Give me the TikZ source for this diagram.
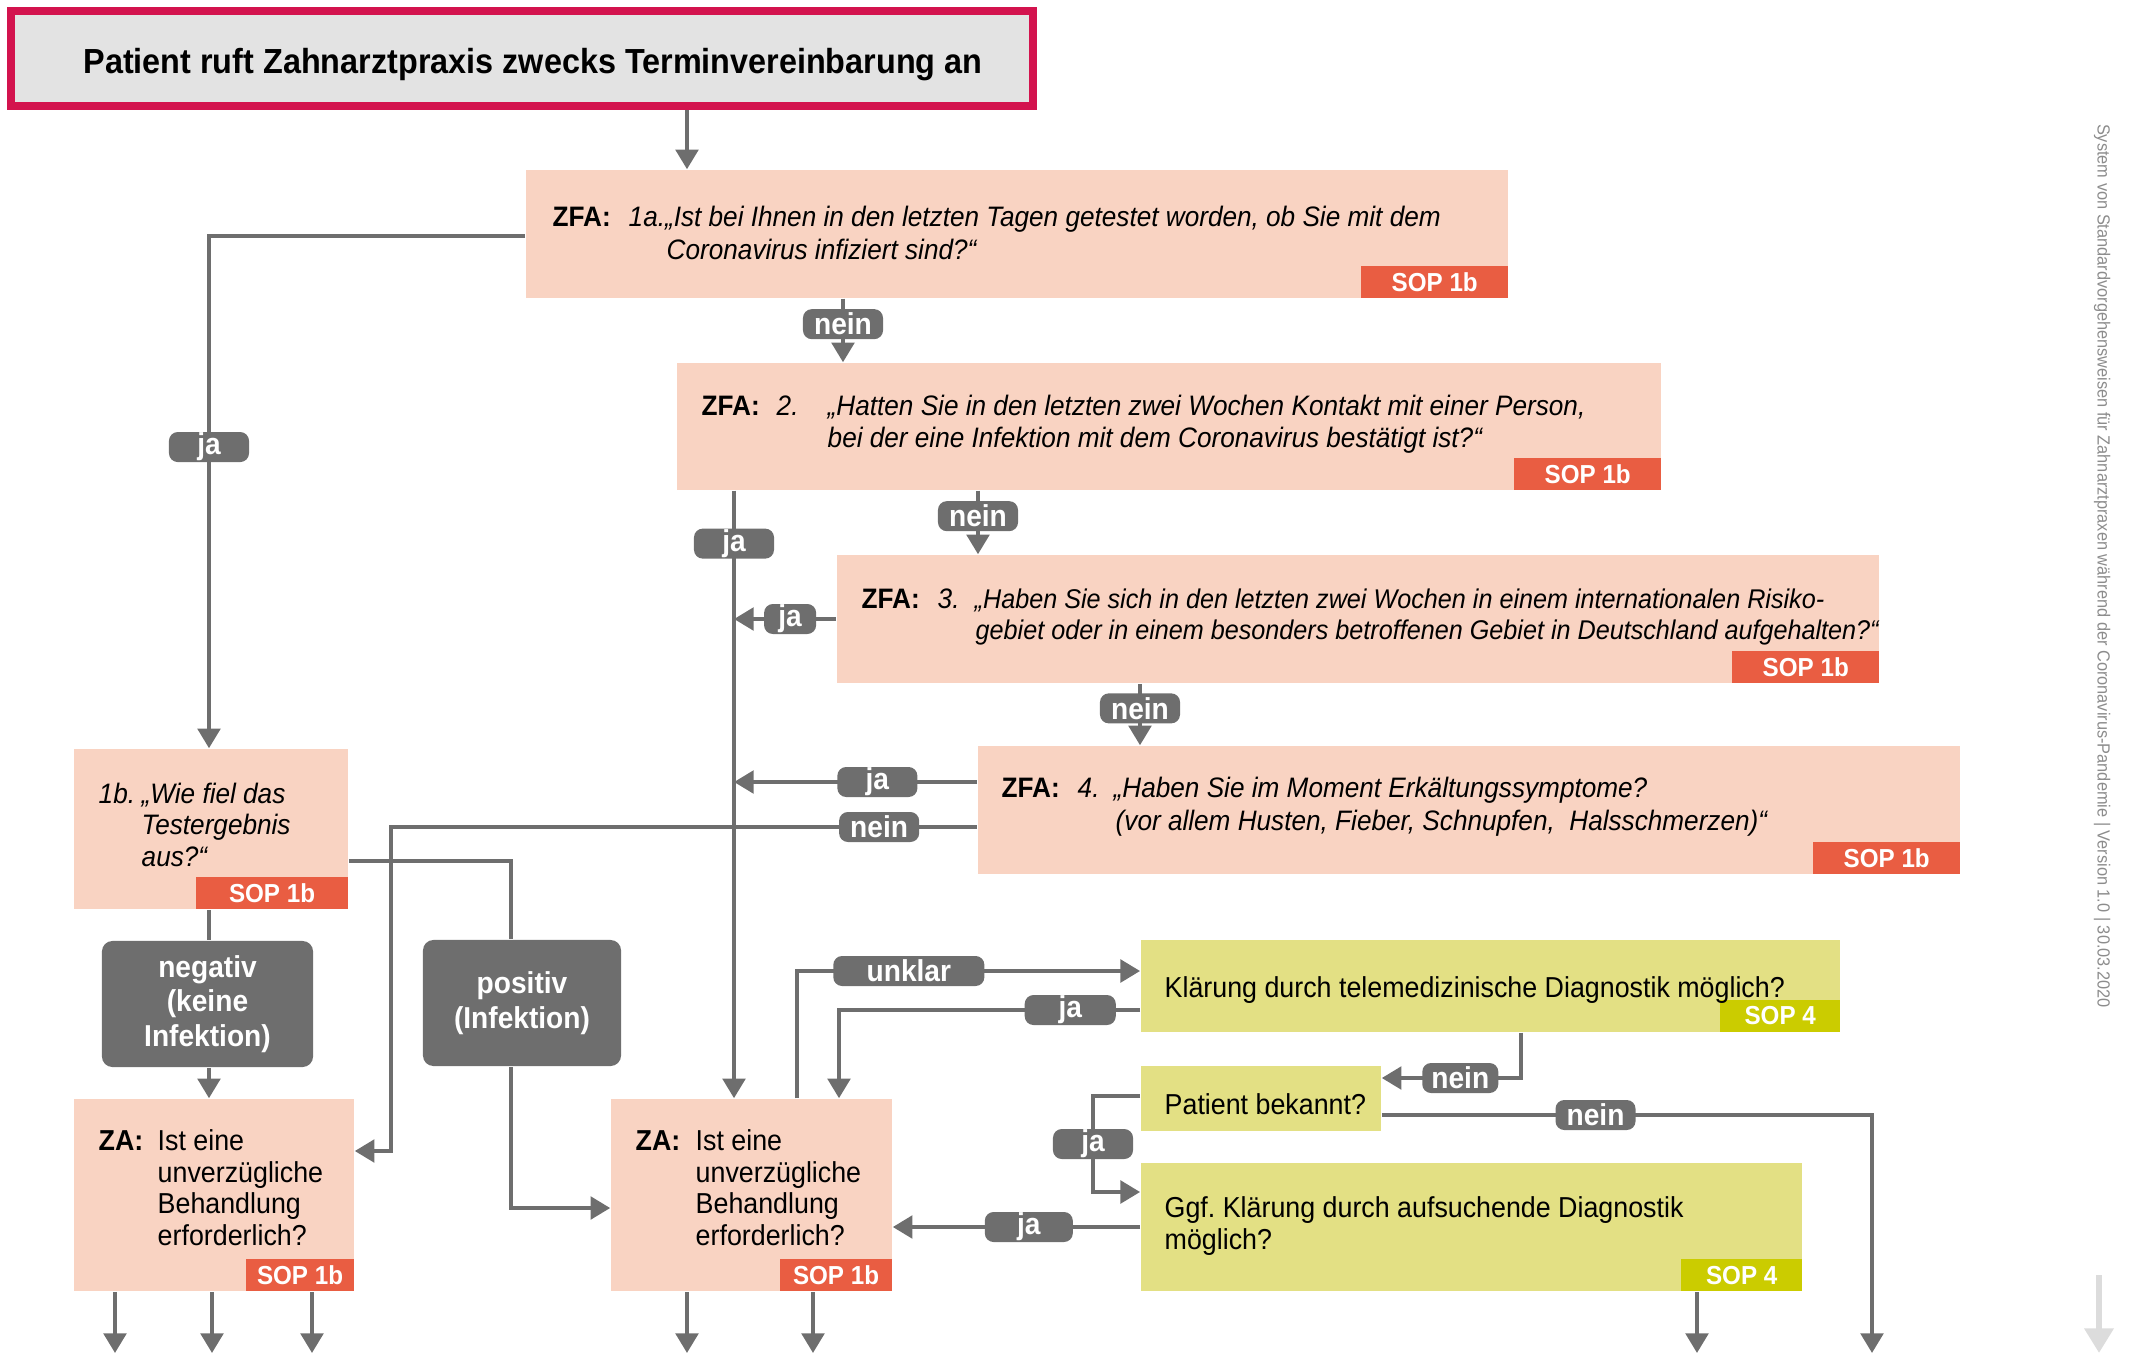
\documentclass[tikz,border=0pt]{standalone}
\usepackage{fontspec}
\setmainfont{Liberation Sans}[FakeStretch=0.93]
\usepackage{tikz}
\usetikzlibrary
  {
    arrows.meta,   % triangle arrow heads
    positioning,   % place nodes relative to other nodes
    calc,
  }
\frenchspacing

\definecolor{flowgray}{HTML}{6E6E6E}
\definecolor{peach}{HTML}{F9D3C2}
\definecolor{soporange}{HTML}{E95D42}
\definecolor{limebox}{HTML}{E3E084}
\definecolor{sopyellow}{HTML}{CBCC00}
\definecolor{callred}{HTML}{D3134E}
\definecolor{callgray}{HTML}{E3E3E3}
\definecolor{notegray}{HTML}{8C8C8C}
\definecolor{hintgray}{HTML}{DCDCDC}

\tikzset{
  line/.style={draw=flowgray, line width=1.15pt},
  arr/.style={line, -{Triangle[width=6.4pt,length=5.6pt]}},
  question/.style={fill=peach, inner sep=0pt},
  check/.style={fill=limebox, inner sep=0pt},
  result/.style={fill=flowgray, rounded corners=3pt, text=white, align=center,
    font=\bfseries\fontsize{8.6}{9.8}\selectfont, inner sep=0pt},
  lbl/.style={fill=flowgray, rounded corners=2.5pt, text=white, inner sep=0pt,
    minimum width=0.8cm, minimum height=0.3cm, font=\bfseries\fontsize{8.6}{8}\selectfont},
  sop/.style={fill=soporange, text=white, inner sep=0pt, anchor=south east,
    minimum height=0.32cm, font=\bfseries\fontsize{7.4}{8}\selectfont},
  sop4/.style={sop, fill=sopyellow},
  txt/.style={anchor=base west, inner sep=0pt, font=\fontsize{8.2}{9.4}\selectfont},
  ask/.style={txt, font=\itshape\fontsize{8}{9.4}\selectfont},
  who/.style={txt, font=\bfseries\fontsize{8}{9.4}\selectfont},
}

\begin{document}
\begin{tikzpicture}[x=0.01cm, y=-0.01cm]
  \useasboundingbox (0,0) rectangle (2154,1354);

  % call
  \node [draw=callred, line width=0.08cm, fill=callgray, minimum width=10.22cm,
    minimum height=0.95cm] (call) at (522,58.5) {};
  \node [anchor=base, inner sep=0pt, font=\bfseries\fontsize{9.9}{10}\selectfont] (call-t)
    at (533,73) {Patient ruft Zahnarztpraxis zwecks Terminvereinbarung an};

  % questions of the ZFA
  \node [question, minimum width=9.82cm, minimum height=1.28cm] (q1a) at (1017,234) {};
  \node [sop, minimum width=1.47cm] (q1a-sop) at (q1a.south east) {SOP 1b};
  \node [who] (q1a-who) at (552,226) {ZFA:};
  \node [ask] (q1a-l1) at (628,226) {1a.„Ist bei Ihnen in den letzten Tagen getestet worden, ob Sie mit dem};
  \node [ask] (q1a-l2) at (666,259) {Coronavirus infiziert sind?“};

  \node [question, minimum width=9.84cm, minimum height=1.27cm] (q2) at (1169,426.5) {};
  \node [sop, minimum width=1.47cm] (q2-sop) at (q2.south east) {SOP 1b};
  \node [who] (q2-who) at (701,415) {ZFA:};
  \node [ask] (q2-nr) at (776,415) {2.};
  \node [ask] (q2-l1) at (827,415) {„Hatten Sie in den letzten zwei Wochen Kontakt mit einer Person,};
  \node [ask] (q2-l2) at (827,447) {bei der eine Infektion mit dem Coronavirus bestätigt ist?“};

  \node [question, minimum width=10.42cm, minimum height=1.28cm] (q3) at (1358,619) {};
  \node [sop, minimum width=1.47cm] (q3-sop) at (q3.south east) {SOP 1b};
  \node [who] (q3-who) at (861,608) {ZFA:};
  \node [ask] (q3-nr) at (937,608) {3.};
  \node [ask, font=\itshape\fontsize{7.7}{9.4}\selectfont] (q3-l1) at (974,608)
    {„Haben Sie sich in den letzten zwei Wochen in einem internationalen Risiko-};
  \node [ask, font=\itshape\fontsize{7.7}{9.4}\selectfont] (q3-l2) at (975,639)
    {gebiet oder in einem besonders betroffenen Gebiet in Deutschland aufgehalten?“};

  \node [question, minimum width=9.82cm, minimum height=1.28cm] (q4) at (1469,810) {};
  \node [sop, minimum width=1.47cm] (q4-sop) at (q4.south east) {SOP 1b};
  \node [who] (q4-who) at (1001,797) {ZFA:};
  \node [ask] (q4-nr) at (1077,797) {4.};
  \node [ask] (q4-l1) at (1113,797) {„Haben Sie im Moment Erkältungssymptome?};
  \node [ask] (q4-l2) at (1115,830) {(vor allem Husten, Fieber, Schnupfen,~ Halsschmerzen)“};

  \node [question, minimum width=2.74cm, minimum height=1.6cm] (q1b) at (211,829) {};
  \node [sop, minimum width=1.52cm] (q1b-sop) at (q1b.south east) {SOP 1b};
  \node [ask] (q1b-nr) at (98,803) {1b.};
  \node [ask] (q1b-l1) at (141,803) {„Wie fiel das};
  \node [ask] (q1b-l2) at (141,834) {Testergebnis};
  \node [ask] (q1b-l3) at (141,866) {aus?“};

  % test results
  \node [result, minimum width=2.11cm, minimum height=1.26cm] (neg) at (207.5,1004) {negativ\\(keine\\Infektion)};
  \node [result, minimum width=1.98cm, minimum height=1.26cm] (pos) at (522,1003) {positiv\\(Infektion)};

  % questions of the ZA
  \node [question, minimum width=2.8cm, minimum height=1.92cm] (za1) at (214,1195) {};
  \node [sop, minimum width=1.08cm] (za1-sop) at (za1.south east) {SOP 1b};
  \node [who, font=\bfseries\fontsize{8.2}{9.4}\selectfont] (za1-who) at (98,1150) {ZA:};
  \node [txt] (za1-l1) at (157,1150) {Ist eine};
  \node [txt] (za1-l2) at (157,1182) {unverzügliche};
  \node [txt] (za1-l3) at (157,1213) {Behandlung};
  \node [txt] (za1-l4) at (157,1245) {erforderlich?};

  \node [question, minimum width=2.81cm, minimum height=1.92cm] (za2) at (751.5,1195) {};
  \node [sop, minimum width=1.12cm] (za2-sop) at (za2.south east) {SOP 1b};
  \node [who, font=\bfseries\fontsize{8.2}{9.4}\selectfont] (za2-who) at (635,1150) {ZA:};
  \node [txt] (za2-l1) at (695,1150) {Ist eine};
  \node [txt] (za2-l2) at (695,1182) {unverzügliche};
  \node [txt] (za2-l3) at (695,1213) {Behandlung};
  \node [txt] (za2-l4) at (695,1245) {erforderlich?};

  % diagnostics
  \node [check, minimum width=6.99cm, minimum height=0.92cm] (tele) at (1490.5,986) {};
  \node [sop4, minimum width=1.2cm] (tele-sop) at (tele.south east) {SOP 4};
  \node [txt] (tele-t) at (1164,997) {Klärung durch telemedizinische Diagnostik möglich?};

  \node [check, minimum width=2.4cm, minimum height=0.65cm] (known) at (1261,1098.5) {};
  \node [txt] (known-t) at (1164,1114) {Patient bekannt?};

  \node [check, minimum width=6.61cm, minimum height=1.28cm] (visit) at (1471.5,1227) {};
  \node [sop4, minimum width=1.21cm] (visit-sop) at (visit.south east) {SOP 4};
  \node [txt] (visit-l1) at (1164,1217) {Ggf. Klärung durch aufsuchende Diagnostik};
  \node [txt] (visit-l2) at (1164,1249) {möglich?};

  % connectors
  \draw [arr] (687,0 |- call.south) -- (687,0 |- q1a.north);
  \draw [arr] (843,0 |- q1a.south) -- node [lbl, pos=0.4] (n1) {nein} (843,0 |- q2.north);
  \draw [arr] (978,0 |- q2.south) -- node [lbl, pos=0.4] (n2) {nein} (978,0 |- q3.north);
  \draw [arr] (1140,0 |- q3.south) -- node [lbl, pos=0.4] (n3) {nein} (1140,0 |- q4.north);

  \draw [arr] (q1a.west |- 0,236) -| node [lbl, pos=0.706] (j1) {ja} (209,0 |- q1b.north);
  \draw [arr] (734,0 |- q2.south) -- node [lbl, pos=0.087] (j2) {ja} (734,0 |- za2.north);
  \draw [arr] (q3.west) -- node [lbl, minimum width=0.52cm, pos=0.45] (j3) {ja} (734,0 |- q3.west);
  \draw [arr] (q4.west |- 0,782) -- node [lbl, pos=0.41] (j4) {ja} (734,782);
  \draw [arr] (q4.west |- 0,827) -- node [lbl, pos=0.167] (n4) {nein} (391,827) |- (za1.east |- 0,1151);

  \draw [line] (209,0 |- q1b.south) -- (209,0 |- neg.north);
  \draw [arr] (209,0 |- neg.south) -- (209,0 |- za1.north);
  \draw [line] (q1b.east |- 0,861) -| (511,0 |- pos.north);
  \draw [arr] (511,0 |- pos.south) |- (za2.west |- 0,1208);

  \draw [arr] (797,0 |- za2.north) |- node [lbl, minimum width=1.51cm, pos=0.663] (u) {unklar} (tele.west |- 0,971);
  \draw [arr] (tele.west |- 0,1010) -| node [lbl, minimum width=0.91cm, pos=0.116] (j5) {ja} (839,0 |- za2.north);
  \draw [arr] (1521,0 |- tele.south) |- node [lbl, minimum width=0.76cm, pos=0.718] (n5) {nein} (known.east |- 0,1078);
  \coordinate (out) at (1872,1353);
  \draw [arr] (known.east |- 0,1115) -| node [lbl, pos=0.218] (n6) {nein} (out);
  \draw [arr] (known.west |- 0,1096) -- (1093,1096) |- node [lbl, pos=0.25] (j6) {ja} (visit.west |- 0,1192);
  \draw [arr] (visit.west) -- node [lbl, minimum width=0.88cm, pos=0.45] (j7) {ja} (za2.east |- visit.west);

  % onward
  \foreach \x in {115,212,312}
    \draw [arr] (\x,0 |- za1.south) -- (\x,1353);
  \foreach \x in {687,813}
    \draw [arr] (\x,0 |- za2.south) -- (\x,1353);
  \draw [arr] (1697,0 |- visit.south) -- (1697,1353);

  % side note
  \node [rotate=-90, text=notegray, inner sep=0pt, font=\fontsize{5}{6}\selectfont] (note) at (2102,566)
    {System von Standardvorgehensweisen für Zahnarztpraxen während der Coronavirus-Pandemie | Version 1.0 | 30.03.2020};
  \coordinate (page) at (2099,1353);
  \draw [draw=hintgray, line width=1.8pt, -{Triangle[width=8pt,length=7pt]}] (2099,1275) -- (page);
\end{tikzpicture}
\end{document}
